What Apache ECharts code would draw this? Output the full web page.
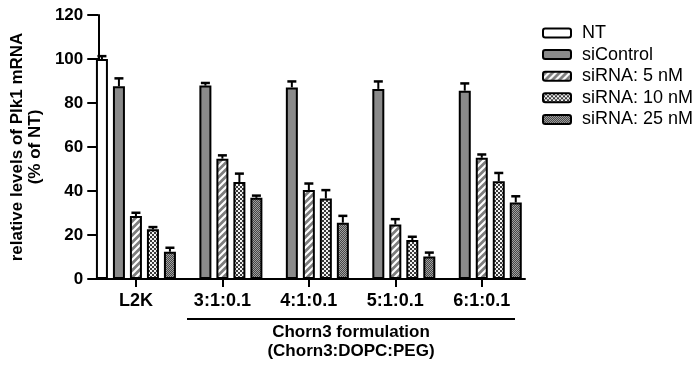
<!DOCTYPE html>
<html>
<head>
<meta charset="utf-8">
<script src="https://cdn.jsdelivr.net/npm/echarts@6/dist/echarts.min.js"></script>
<style>
  html, body { margin: 0; padding: 0; background: #fff; }
  #chart { width: 696px; height: 368px; }
</style>
</head>
<body>
<div id="chart"></div>
<script>
// data
var categories = ['L2K', '3:1:0.1', '4:1:0.1', '5:1:0.1', '6:1:0.1'];
var seriesNames = ['NT', 'siControl', 'siRNA: 5 nM', 'siRNA: 10 nM', 'siRNA: 25 nM'];
var yTicks = [0, 20, 40, 60, 80, 100, 120];

var ntMean = [100, '-', '-', '-', '-'];
var ntErr = [1.3, '-', '-', '-', '-'];
var siControlMean = [87.6, 87.9, 87.1, 86.4, 85.6];
var siControlErr = [3.6, 1.2, 2.7, 3.4, 3.3];
var si5Mean = [28.6, 54.7, 40.4, 24.8, 55.1];
var si5Err = [1.5, 1.5, 3.0, 2.4, 1.5];
var si10Mean = [22.6, 44.1, 36.6, 17.7, 44.4];
var si10Err = [1.0, 3.8, 3.8, 1.5, 3.8];
var si25Mean = [12.4, 36.9, 25.6, 10.2, 34.8];
var si25Err = [1.8, 1.0, 3.1, 1.8, 2.8];

var means = [ntMean, siControlMean, si5Mean, si10Mean, si25Mean];
var errs = [ntErr, siControlErr, si5Err, si10Err, si25Err];

// fill patterns
function makeCanvas(w, h) {
  var c = document.createElement('canvas');
  c.width = w;
  c.height = h;
  return c;
}
function stripePattern() {
  var c = makeCanvas(7, 7);
  var ctx = c.getContext('2d');
  ctx.fillStyle = '#7d7d7d';
  ctx.fillRect(0, 0, 7, 7);
  ctx.strokeStyle = '#ffffff';
  ctx.lineWidth = 2.2;
  ctx.beginPath();
  ctx.moveTo(-1, 8); ctx.lineTo(8, -1);
  ctx.moveTo(-1, 1); ctx.lineTo(1, -1);
  ctx.moveTo(6, 8); ctx.lineTo(8, 6);
  ctx.stroke();
  return c;
}
function checkerPattern() {
  var c = makeCanvas(4, 4);
  var ctx = c.getContext('2d');
  ctx.fillStyle = '#3a3a3a';
  ctx.fillRect(0, 0, 4, 4);
  ctx.fillStyle = '#f2f2f2';
  ctx.fillRect(0, 0, 2, 2);
  ctx.fillRect(2, 2, 2, 2);
  return c;
}
function dotPattern() {
  var c = makeCanvas(2, 2);
  var ctx = c.getContext('2d');
  ctx.fillStyle = '#464646';
  ctx.fillRect(0, 0, 2, 2);
  ctx.fillStyle = '#a0a0a0';
  ctx.fillRect(0, 0, 1, 1);
  ctx.fillRect(1, 1, 1, 1);
  return c;
}

var fills = [
  '#ffffff',
  '#8a8a8a',
  { image: stripePattern(), repeat: 'repeat' },
  { image: checkerPattern(), repeat: 'repeat' },
  { image: dotPattern(), repeat: 'repeat' }
];

var barWidth = 12;
var barSlot = 17;

var series = [];
for (let i = 0; i < seriesNames.length; i++) {
  series.push({
    name: seriesNames[i],
    type: 'bar',
    xAxisIndex: 1,
    yAxisIndex: 1,
    barWidth: barWidth,
    barGap: ((barSlot - barWidth) / barWidth * 100) + '%',
    data: means[i],
    itemStyle: {
      color: fills[i],
      borderColor: '#000',
      borderWidth: 2
    },
    z: 2
  });
}
// error bars, one custom series per group member
for (let i = 0; i < seriesNames.length; i++) {
  let offset = (i - 2) * barSlot;
  let data = [];
  for (let j = 0; j < categories.length; j++) {
    if (means[i][j] === '-') continue;
    data.push([j, means[i][j], errs[i][j]]);
  }
  series.push({
    name: 'err ' + seriesNames[i],
    type: 'custom',
    xAxisIndex: 1,
    yAxisIndex: 1,
    z: 3,
    silent: true,
    data: data,
    renderItem: function (params, api) {
      var x = api.value(0);
      var v = api.value(1);
      var e = api.value(2);
      var base = api.coord([x, v]);
      var top = api.coord([x, v + e]);
      var cx = base[0] + offset;
      return {
        type: 'group',
        children: [
          { type: 'line', shape: { x1: cx, y1: base[1], x2: cx, y2: top[1] }, style: { stroke: '#000', lineWidth: 2 } },
          { type: 'line', shape: { x1: cx - 4.5, y1: top[1], x2: cx + 4.5, y2: top[1] }, style: { stroke: '#000', lineWidth: 2.5 } }
        ]
      };
    }
  });
}

var chart = echarts.init(document.getElementById('chart'));
var option = {
  animation: false,
  backgroundColor: '#fff',
  textStyle: { fontFamily: 'Liberation Sans, Arial, sans-serif' },
  grid: [
    { left: 89, right: 171, top: 15, bottom: 89 },
    { left: 92.7, right: 171, top: 15, bottom: 89 }
  ],
  legend: {
    data: seriesNames,
    orient: 'vertical',
    left: 537,
    top: 19,
    itemWidth: 28,
    itemHeight: 9,
    itemGap: 3.6,
    itemStyle: { borderColor: '#000', borderWidth: 2 },
    textStyle: { fontSize: 18, color: '#000', padding: [0, 0, 0, 6] },
    selectedMode: false
  },
  xAxis: [
    {
      gridIndex: 0,
      type: 'value',
      min: 0,
      max: 1,
      axisLine: { show: true, lineStyle: { color: '#000', width: 2 } },
      axisTick: { show: false },
      axisLabel: { show: false },
      splitLine: { show: false }
    },
    {
      gridIndex: 1,
      type: 'category',
      data: categories,
      axisLine: { show: false },
      axisTick: { show: true, alignWithLabel: true, length: 8, lineStyle: { color: '#000', width: 2 } },
      axisLabel: { fontSize: 18, fontWeight: 'bold', color: '#000', margin: 13 }
    }
  ],
  yAxis: [
    {
      gridIndex: 0,
      type: 'value',
      min: yTicks[0],
      max: yTicks[yTicks.length - 1],
      interval: yTicks[1] - yTicks[0],
      axisLine: { show: true, lineStyle: { color: '#000', width: 2 } },
      axisTick: { show: true, length: 11, lineStyle: { color: '#000', width: 2 } },
      axisLabel: { fontSize: 17, fontWeight: 'bold', color: '#000', margin: 15 },
      splitLine: { show: false },
      name: 'relative levels of Plk1 mRNA\n(% of NT)',
      nameLocation: 'middle',
      nameRotate: 90,
      nameGap: 45,
      nameTextStyle: { fontSize: 17, fontWeight: 'bold', color: '#000', lineHeight: 18 }
    },
    {
      gridIndex: 1,
      type: 'value',
      min: yTicks[0],
      max: yTicks[yTicks.length - 1],
      show: false
    }
  ],
  graphic: [
    { type: 'line', shape: { x1: 187, y1: 319, x2: 515, y2: 319 }, style: { stroke: '#000', lineWidth: 2 } },
    { type: 'text', x: 351, y: 332, style: { text: 'Chorn3 formulation', fontSize: 17, fontWeight: 'bold', fill: '#000', textAlign: 'center', textVerticalAlign: 'middle', fontFamily: 'Liberation Sans, Arial, sans-serif' } },
    { type: 'text', x: 351, y: 351, style: { text: '(Chorn3:DOPC:PEG)', fontSize: 17, fontWeight: 'bold', fill: '#000', textAlign: 'center', textVerticalAlign: 'middle', fontFamily: 'Liberation Sans, Arial, sans-serif' } }
  ],
  series: series
};
chart.setOption(option);
</script>
</body>
</html>
